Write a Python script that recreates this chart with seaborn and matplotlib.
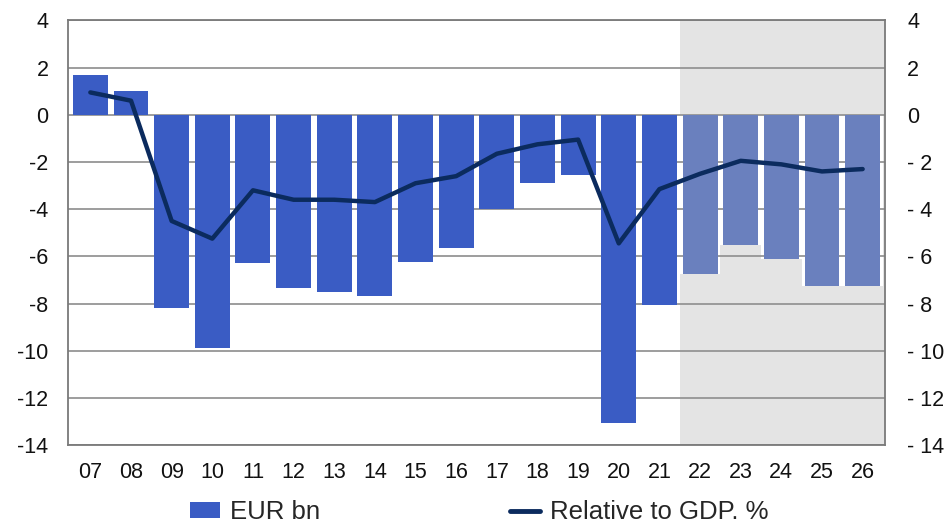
import numpy as np
import matplotlib
matplotlib.use("Agg")
import matplotlib.pyplot as plt
import seaborn as sns
from matplotlib.patches import Patch
from matplotlib.lines import Line2D
from matplotlib.ticker import FuncFormatter

# data
years = ['07', '08', '09', '10', '11', '12', '13', '14', '15', '16',
         '17', '18', '19', '20', '21', '22', '23', '24', '25', '26']
eur_bn = [1.7, 1.0, -8.2, -9.9, -6.3, -7.35, -7.5, -7.7, -6.25, -5.65,
          -4.0, -2.9, -2.55, -13.05, -8.05, -6.75, -5.5, -6.1, -7.25, -7.25]
rel_gdp = [0.95, 0.6, -4.5, -5.25, -3.2, -3.6, -3.6, -3.7, -2.9, -2.6,
           -1.65, -1.25, -1.05, -5.45, -3.15, -2.5, -1.95, -2.1, -2.4, -2.3]
first_forecast = '22'

hist_col = '#3A5CC4'
fcst_col = '#6A80BE'
line_col = '#0B2B5E'

sns.set_theme(style='white')
plt.rcParams['font.family'] = ['Liberation Sans', 'DejaVu Sans']
plt.rcParams['axes.unicode_minus'] = False

fig = plt.figure(figsize=(9.49, 5.26), dpi=100)
ax = fig.add_axes([68/949, 81/526, (885-68)/949, (445-20.5)/526])

n = len(years)
fi = years.index(first_forecast)
colors = [hist_col if i < fi else fcst_col for i in range(n)]

# shaded forecast period
ax.axvspan(fi - 0.5, n - 0.45, color='#E4E4E4', zorder=0, lw=0)

# white backing so the gaps between bars stay white
sns.barplot(x=years, y=eur_bn, color='white', width=1.0, ax=ax,
            zorder=1, linewidth=0, saturation=1)
sns.barplot(x=years, y=eur_bn, hue=years, palette=colors, legend=False,
            width=0.86, ax=ax, zorder=3, linewidth=0, saturation=1)

ax.set_xlim(-0.55, n - 0.45)
ax.set_ylim(-14, 4)
ax.set_yticks(range(-14, 5, 2))
for y in range(-14, 5, 2):
    ax.axhline(y, color='#959595', lw=1.3, zorder=2)

ax.set_xlabel('')
ax.set_ylabel('')
ax.tick_params(axis='both', length=0, labelsize=15.5, colors='#111111')
ax.tick_params(axis='x', pad=12)
ax.tick_params(axis='y', pad=14)
for s in ax.spines.values():
    s.set_color('#7A7A7A')
    s.set_linewidth(1.3)
    s.set_zorder(4)

ax2 = ax.twinx()
sns.lineplot(x=np.arange(n), y=rel_gdp, ax=ax2, color=line_col, lw=3.2, zorder=5)
ax2.set_ylim(-14, 4)
ax2.set_yticks(range(-14, 5, 2))
ax2.yaxis.set_major_formatter(FuncFormatter(
    lambda v, p: '- %d' % abs(v) if v < 0 else '%d' % v))
ax2.tick_params(axis='y', length=0, labelsize=15.5, pad=16, colors='#111111')
for s in ax2.spines.values():
    s.set_visible(False)
ax2.grid(False)
ax.set_xlim(-0.55, n - 0.45)

handles = [Patch(facecolor=hist_col, edgecolor='none'),
           Line2D([0], [0], color=line_col, lw=3.5)]
fig.legend(handles, ['EUR bn', 'Relative to GDP. %'], loc='center left',
           bbox_to_anchor=(190/949, 14/526), ncol=2, frameon=False,
           fontsize=18.5, handlelength=1.15, handleheight=0.55,
           handletextpad=0.4, columnspacing=7.4, borderpad=0,
           borderaxespad=0)

fig.savefig('out.png', dpi=100)
